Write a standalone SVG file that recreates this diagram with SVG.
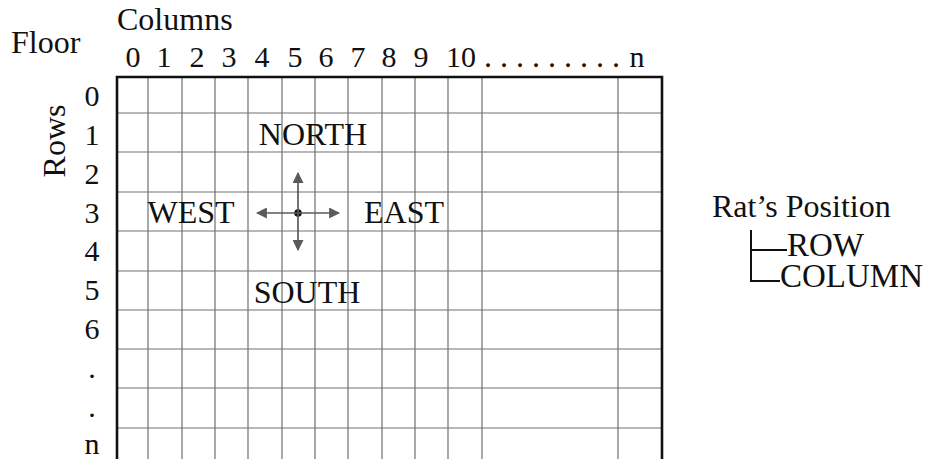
<svg xmlns="http://www.w3.org/2000/svg" width="934" height="459" viewBox="0 0 934 459">
<style>
text{font-family:"Liberation Serif","Times New Roman",serif;font-size:32px;fill:#111}
.c{text-anchor:middle}
.d{font-size:30px}
.g{stroke:#707070;stroke-width:1.2;fill:none}
.b{stroke:#111;stroke-width:2.6;fill:none}
.a{stroke:#5a5a5a;stroke-width:1.7;fill:none}
.k{stroke:#111;stroke-width:2;fill:none}
</style>
<defs>
<marker id="ah" viewBox="0 0 10 10" refX="9" refY="5" markerWidth="11" markerHeight="11" markerUnits="userSpaceOnUse" orient="auto">
<path d="M0,0 L10,5 L0,10 z" fill="#5a5a5a"/>
</marker>
</defs>
<rect width="934" height="459" fill="#fff"/>
<g id="titles">
<text x="117" y="30">Columns</text>
<text x="11" y="53">Floor</text>
<text transform="translate(65,141) rotate(-90)" class="c">Rows</text>
</g>
<g id="column-labels">
<text x="133" y="67" class="c d">0</text>
<text x="164" y="67" class="c d">1</text>
<text x="197" y="67" class="c d">2</text>
<text x="229" y="67" class="c d">3</text>
<text x="262" y="67" class="c d">4</text>
<text x="295" y="67" class="c d">5</text>
<text x="326" y="67" class="c d">6</text>
<text x="358" y="67" class="c d">7</text>
<text x="389" y="67" class="c d">8</text>
<text x="421" y="67" class="c d">9</text>
<text x="461" y="67" class="c d">10</text>
<text x="484" y="67">. . . . . . . . .</text>
<text x="637" y="67" class="c d">n</text>
</g>
<g id="row-labels">
<text x="92" y="106" class="c d">0</text>
<text x="92" y="145" class="c d">1</text>
<text x="92" y="184" class="c d">2</text>
<text x="92" y="223" class="c d">3</text>
<text x="92" y="261" class="c d">4</text>
<text x="92" y="300" class="c d">5</text>
<text x="92" y="339" class="c d">6</text>
<text x="92" y="378" class="c d">.</text>
<text x="92" y="417" class="c d">.</text>
<text x="92" y="454" class="c d">n</text>
</g>
<g id="grid">
<path class="g" d="M148,77V459 M182,77V459 M215,77V459 M248,77V459 M282,77V459 M315,77V459 M348,77V459 M382,77V459 M415,77V459 M448,77V459 M482,77V459 M618,77V459"/>
<path class="g" d="M117,113H662 M117,152H662 M117,192H662 M117,231H662 M117,271H662 M117,310H662 M117,349H662 M117,388H662 M117,428H662"/>
<path class="b" d="M117,459V77H662V459"/>
</g>
<g id="north"><text x="313" y="145" class="c">NORTH</text></g>
<g id="south"><text x="307" y="303" class="c">SOUTH</text></g>
<g id="west"><text x="191" y="223" class="c">WEST</text></g>
<g id="east"><text x="404" y="223" class="c">EAST</text></g>
<g id="rat"><circle cx="298" cy="213" r="3.8" fill="#111"/></g>
<g id="rat-position">
<text x="712" y="217">Rat’s Position</text>
<text x="787" y="256" style="font-size:33px">ROW</text>
<text x="780" y="287" style="font-size:33px">COLUMN</text>
</g>
<g id="connectors">
<path class="a" marker-end="url(#ah)" d="M298,213V173"/>
<path class="a" marker-end="url(#ah)" d="M298,213V250"/>
<path class="a" marker-end="url(#ah)" d="M298,213H257"/>
<path class="a" marker-end="url(#ah)" d="M298,213H339"/>
<path class="k" d="M751,230V281H780 M751,250H787"/>
</g>
</svg>
